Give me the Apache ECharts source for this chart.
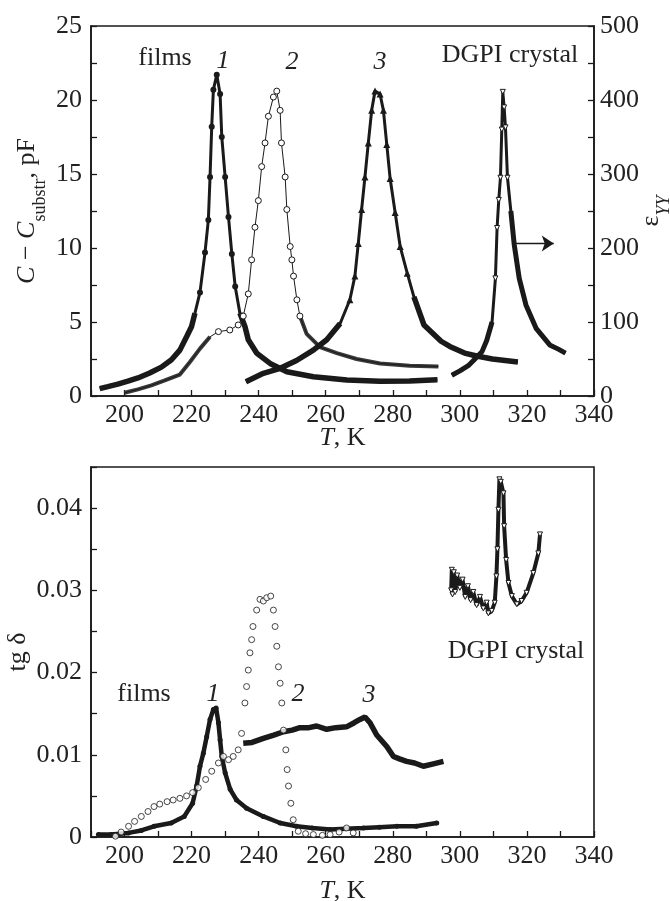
<!DOCTYPE html>
<html><head><meta charset="utf-8">
<script src="https://cdn.jsdelivr.net/npm/echarts@6/dist/echarts.min.js"></script>
<style>html,body{margin:0;padding:0;background:#fff}#c{width:670px;height:901px}</style>
</head><body><div id="c"></div>
<script>
// ---------- DATA ----------
// Top panel: capacitance of films (left axis, pF) and eps_YY of crystal (right axis)
const c1T = [192.6,195,198,201,204,207.5,211,214,216.5,218.5,220,221,222.5,224,225,225.5,226,226.5,227.5,228.5,229,230,231,232,233,234.4,235.9,236.9,239.4,243.4,248.4,256.3,266.3,276.2,285,293.3];
const c1C = [0.5,0.63,0.8,1.0,1.22,1.55,1.95,2.45,3.1,4.0,4.7,5.6,7.0,9.7,11.9,14.8,18.2,20.7,21.7,20.4,17.5,14.8,12.1,9.6,7.4,5.6,4.7,3.8,2.9,2.2,1.64,1.3,1.08,1.0,1.02,1.1];
const c2T = [200,204,208,212,216.5,219.5,222.5,225.5,228,231.4,233.9,235.4,236.9,237.9,238.9,239.9,240.9,241.9,242.9,244.4,245.4,246.4,246.8,247.9,248.4,249.4,249.9,250.4,251.4,252.3,254.3,258.3,263.3,269.2,276.2,285,293.6];
const c2C = [0.22,0.45,0.72,1.05,1.45,2.3,3.2,4.0,4.35,4.46,4.8,5.4,6.9,9.2,11.4,13.2,15.5,17.1,18.9,20.2,20.6,19.3,17.1,14.8,12.6,10.1,9.2,8.1,6.5,5.4,4.2,3.3,2.9,2.5,2.2,2.05,2.0];
const c3T = [236.2,241.4,246.4,251.3,256.3,260.3,264.3,267.2,268.7,269.7,270.7,271.7,272.7,273.7,274.7,276.2,277.2,278.2,279.2,280.7,282.2,284.3,286.3,289.3,294.4,297,301.4,305,309.7,313.5,317.3];
const c3C = [0.97,1.53,1.87,2.4,3.1,3.8,4.9,6.5,8.1,10.3,12.6,14.8,17.1,19.3,20.6,20.4,19.3,17.0,14.7,12.4,10.1,8.3,6.7,4.8,3.7,3.35,2.9,2.7,2.5,2.4,2.3];
const crT = [297.6,300,302.5,304.5,306.6,308,309.6,310.6,311.1,311.6,312.1,312.5,312.8,313.2,313.6,314.2,315.2,316.2,317.7,319.7,322.8,326.8,329.5,331.5];
const crE = [28,34,41,50,60,75,100,159,227,265,295,360,411,390,363,295,250,205,159,123,91,69,63,58];
// Bottom panel: tg delta
const b1T = [192.2,196,201.2,205,208.8,213.9,217.8,220.3,221.5,222.5,223.5,224.5,225.5,226.5,227.3,228,228.5,229,230,231.5,233.4,236.4,241.4,246.4,251.3,256,261.3,266,271.2,276,281.2,287,293.1];
const b1D = [0.0003,0.0003,0.0005,0.0008,0.0013,0.0017,0.0025,0.0041,0.0062,0.0086,0.0102,0.0122,0.0143,0.0155,0.0157,0.0139,0.0118,0.0098,0.0078,0.0058,0.0045,0.0035,0.0025,0.0017,0.0013,0.0011,0.0009,0.001,0.0011,0.0012,0.0013,0.0013,0.0017];
const b2T = [197.3,199,201.2,203,205,207,208.8,210.5,212.7,214.5,216.5,218.5,220.3,222,224.2,226,228,229.5,231,232.4,233.9,234.9,235.9,236.4,236.9,237.4,237.9,238.3,239.4,240.4,241.4,242.4,243.6,244.4,244.9,245.4,245.9,246.4,246.9,247.4,248.1,248.5,248.9,249.6,250.3,251.8,254,256.3,259,261.3,264,266.2,268.2];
const b2D = [0.0001,0.0006,0.0013,0.0019,0.0025,0.0031,0.0037,0.004,0.0043,0.0045,0.0047,0.005,0.0054,0.006,0.007,0.008,0.009,0.0098,0.0094,0.0098,0.0106,0.0126,0.0163,0.0183,0.0203,0.0224,0.024,0.0256,0.0276,0.0289,0.0287,0.0291,0.0293,0.0276,0.0256,0.0232,0.0207,0.0187,0.0163,0.013,0.0106,0.0082,0.0062,0.0041,0.0021,0.0007,0.0004,0.0003,0.0002,0.0003,0.0006,0.0011,0.0005];
const b3T = [235.4,238,241.4,244.5,247.4,250,252.3,255,257.3,260.3,263,266.2,268.5,270.2,271.7,273.2,275.2,278.2,280.2,282,284.1,286.5,289.1,292.1,295.1];
const b3D = [0.0114,0.0115,0.012,0.0124,0.0128,0.013,0.0133,0.0133,0.0135,0.0131,0.0133,0.0134,0.0139,0.0143,0.0146,0.0139,0.0124,0.011,0.0098,0.0095,0.0092,0.009,0.0086,0.0089,0.0092];
const bcT = [297.4,297.6,297.8,298.2,298.6,299.2,300,300.8,301.6,302.4,303.2,304,305,306,307,308,308.5,309.5,310.4,310.9,311.2,311.5,311.8,312.2,313,313.2,313.8,314.5,315.5,317,318.4,319.9,321.9,323.4,323.9];
const bcD = [0.03,0.0325,0.0295,0.0322,0.0298,0.0318,0.0303,0.0313,0.0292,0.0305,0.0288,0.0298,0.0282,0.0292,0.0278,0.0285,0.0272,0.0275,0.0285,0.0317,0.035,0.0398,0.0435,0.0432,0.0418,0.0378,0.0337,0.0309,0.0293,0.0283,0.0287,0.0297,0.0321,0.0345,0.0368];
// Arrow pointing to the right axis (T from, T to, eps level)
const arrowT = [315.7, 328];
const arrowE = 206;

// ---------- helpers ----------
const FONT = 'Liberation Serif, "Times New Roman", serif';
const INK = '#1a1a1a';
const inR = (t, ranges) => ranges.some(r => t >= r[0] && t <= r[1]);
const pts = (T, V) => T.map((t, i) => [t, V[i]]);
const markers = (T, V, ranges) => T.map((t, i) => inR(t, ranges) ? {value:[t, V[i]], symbol:'none'} : {value:[t, V[i]]});
const band = (T, V, ranges) => T.map((t, i) => inR(t, ranges) ? [t, V[i]] : [t, null]);

const tickStyle = {show:true, inside:true, length:6, lineStyle:{color:INK, width:1.3}};
const lineAx = {show:true, onZero:false, lineStyle:{color:INK, width:1.6}};
const lblStyle = {color:'#222', fontFamily:FONT, fontSize:26};

function xAx(grid, gap) {
  return {type:'value', gridIndex:grid, min:190, max:340, interval:10,
    axisLine:lineAx, axisTick:tickStyle, splitLine:{show:false},
    axisLabel:Object.assign({margin:6, formatter:v => (v >= 200 && v % 20 === 0) ? String(v) : ''}, lblStyle),
    name:'{i|T}, K', nameLocation:'middle', nameGap:gap, nameMoveOverlap:false,
    nameTextStyle:{fontFamily:FONT, fontSize:26, color:'#222', rich:{i:{fontStyle:'italic', fontFamily:FONT, fontSize:26, color:'#222'}}}};
}

const richName = {
  i:{fontStyle:'italic', fontFamily:FONT, fontSize:26, color:'#222', lineHeight:30, verticalAlign:'top'},
  n:{fontFamily:FONT, fontSize:26, color:'#222', lineHeight:30, verticalAlign:'top'},
  sub:{fontFamily:FONT, fontSize:18, color:'#222', lineHeight:35, verticalAlign:'bottom'},
  subi:{fontFamily:FONT, fontStyle:'italic', fontSize:18, color:'#222', lineHeight:35, verticalAlign:'bottom'}
};

const option = {
  animation:false,
  backgroundColor:'#fff',
  grid:[
    {left:91, top:26, width:503, height:370, containLabel:false, outerBoundsMode:'none', show:true, borderColor:INK, borderWidth:1.6, backgroundColor:'transparent'},
    {left:91, top:467, width:503, height:370, containLabel:false, outerBoundsMode:'none', show:true, borderColor:INK, borderWidth:1.6, backgroundColor:'transparent'}
  ],
  xAxis:[xAx(0, 29), xAx(1, 41)],
  yAxis:[
    {type:'value', gridIndex:0, position:'left', min:0, max:25, interval:5,
      axisLine:lineAx, axisTick:tickStyle, minorTick:{show:true, splitNumber:2, length:6, lineStyle:{color:INK, width:1.3}},
      splitLine:{show:false}, axisLabel:Object.assign({margin:9}, lblStyle),
      name:'{i|C}{n| − }{i|C}{sub|substr}{n|, pF}', nameLocation:'middle', nameRotate:90, nameGap:42, nameMoveOverlap:false,
      nameTextStyle:{rich:richName}},
    {type:'value', gridIndex:0, position:'right', min:0, max:500, interval:100,
      axisLine:lineAx, axisTick:tickStyle, minorTick:{show:true, splitNumber:2, length:6, lineStyle:{color:INK, width:1.3}},
      splitLine:{show:false}, axisLabel:Object.assign({margin:6}, lblStyle),
      name:'{n|ε}{subi|YY}', nameLocation:'middle', nameRotate:90, nameGap:44, nameMoveOverlap:false,
      nameTextStyle:{rich:richName}},
    {type:'value', gridIndex:1, position:'left', min:0, max:0.045, interval:0.005,
      axisLine:lineAx, axisTick:tickStyle, splitLine:{show:false},
      axisLabel:Object.assign({margin:9, formatter:v => { const k = Math.round(v * 1000); return k % 10 === 0 ? (k === 0 ? '0' : (k / 1000).toFixed(2)) : ''; }}, lblStyle),
      name:'{n|tg δ}', nameLocation:'middle', nameRotate:90, nameGap:56, nameMoveOverlap:false,
      nameTextStyle:{rich:richName}}
  ],
  series:[
    // ---- top: curve 1 (filled circles)
    {type:'line', xAxisIndex:0, yAxisIndex:0, data:band(c1T, c1C, [[190,221.5],[234,300]]), symbol:'none',
      lineStyle:{color:INK, width:5.5}, z:3},
    {type:'line', xAxisIndex:0, yAxisIndex:0, data:markers(c1T, c1C, [[190,221.5],[234,300]]), symbol:'circle', symbolSize:6,
      itemStyle:{color:INK}, lineStyle:{color:INK, width:3}, z:4},
    // ---- top: curve 2 (open circles)
    {type:'line', xAxisIndex:0, yAxisIndex:0, data:band(c2T, c2C, [[190,225.6],[252,300]]), symbol:'none',
      lineStyle:{color:'#3a3a3a', width:4}, z:3},
    {type:'line', xAxisIndex:0, yAxisIndex:0, data:markers(c2T, c2C, [[190,225.6],[252.5,300]]), symbol:'circle', symbolSize:6,
      itemStyle:{color:'#fff', borderColor:INK, borderWidth:1}, lineStyle:{color:INK, width:1}, z:4},
    // ---- top: curve 3 (triangles)
    {type:'line', xAxisIndex:0, yAxisIndex:0, data:band(c3T, c3C, [[230,266],[285,320]]), symbol:'none',
      lineStyle:{color:INK, width:5.5}, z:3},
    {type:'line', xAxisIndex:0, yAxisIndex:0, data:markers(c3T, c3C, [[230,266],[285.5,320]]), symbol:'triangle', symbolSize:7,
      itemStyle:{color:INK}, lineStyle:{color:INK, width:3}, z:4},
    // ---- top: DGPI crystal (down triangles, right axis)
    {type:'line', xAxisIndex:0, yAxisIndex:1, data:band(crT, crE, [[290,310],[314.5,335]]), symbol:'none',
      lineStyle:{color:INK, width:5}, z:3},
    {type:'line', xAxisIndex:0, yAxisIndex:1, data:markers(crT, crE, [[290,310],[314.5,335]]), symbol:'triangle', symbolRotate:180, symbolSize:5,
      itemStyle:{color:'#fff', borderColor:INK, borderWidth:1}, lineStyle:{color:INK, width:3}, z:4,
      markLine:{silent:true, symbol:['none','arrow'], symbolSize:12, label:{show:false},
        lineStyle:{color:INK, width:1.3, type:'solid'}, itemStyle:{color:INK},
        data:[[{coord:[arrowT[0], arrowE]}, {coord:[arrowT[1], arrowE]}]]}},
    // ---- bottom: curve 1
    {type:'line', xAxisIndex:1, yAxisIndex:2, data:pts(b1T, b1D), symbol:'circle', symbolSize:5,
      itemStyle:{color:INK}, lineStyle:{color:INK, width:4.5}, z:3},
    // ---- bottom: curve 2 (open circles, no line)
    {type:'scatter', xAxisIndex:1, yAxisIndex:2, data:pts(b2T, b2D), symbol:'circle', symbolSize:6,
      itemStyle:{color:'#fff', borderColor:INK, borderWidth:1}, z:4},
    // ---- bottom: curve 3
    {type:'line', xAxisIndex:1, yAxisIndex:2, data:pts(b3T, b3D), symbol:'none',
      lineStyle:{color:INK, width:5.5}, z:3},
    // ---- bottom: crystal
    {type:'line', xAxisIndex:1, yAxisIndex:2, data:pts(bcT, bcD), symbol:'triangle', symbolRotate:180, symbolSize:5,
      itemStyle:{color:'#fff', borderColor:INK, borderWidth:1}, lineStyle:{color:INK, width:4}, z:3}
  ],
  graphic:[
    {type:'text', x:165, y:58, style:{text:'films', font:'26px ' + FONT, fill:'#222', align:'center', verticalAlign:'middle'}},
    {type:'text', x:223, y:61, style:{text:'1', font:'italic 26px ' + FONT, fill:'#222', align:'center', verticalAlign:'middle'}},
    {type:'text', x:292, y:62, style:{text:'2', font:'italic 26px ' + FONT, fill:'#222', align:'center', verticalAlign:'middle'}},
    {type:'text', x:380, y:62, style:{text:'3', font:'italic 26px ' + FONT, fill:'#222', align:'center', verticalAlign:'middle'}},
    {type:'text', x:510, y:55, style:{text:'DGPI crystal', font:'26px ' + FONT, fill:'#222', align:'center', verticalAlign:'middle'}},
    {type:'text', x:144, y:694, style:{text:'films', font:'26px ' + FONT, fill:'#222', align:'center', verticalAlign:'middle'}},
    {type:'text', x:213, y:694, style:{text:'1', font:'italic 26px ' + FONT, fill:'#222', align:'center', verticalAlign:'middle'}},
    {type:'text', x:298, y:694, style:{text:'2', font:'italic 26px ' + FONT, fill:'#222', align:'center', verticalAlign:'middle'}},
    {type:'text', x:369, y:695, style:{text:'3', font:'italic 26px ' + FONT, fill:'#222', align:'center', verticalAlign:'middle'}},
    {type:'text', x:516, y:651, style:{text:'DGPI crystal', font:'26px ' + FONT, fill:'#222', align:'center', verticalAlign:'middle'}}
  ]
};
const chart = echarts.init(document.getElementById('c'), null, {renderer:'canvas'});
chart.setOption(option);
</script>
</body></html>
